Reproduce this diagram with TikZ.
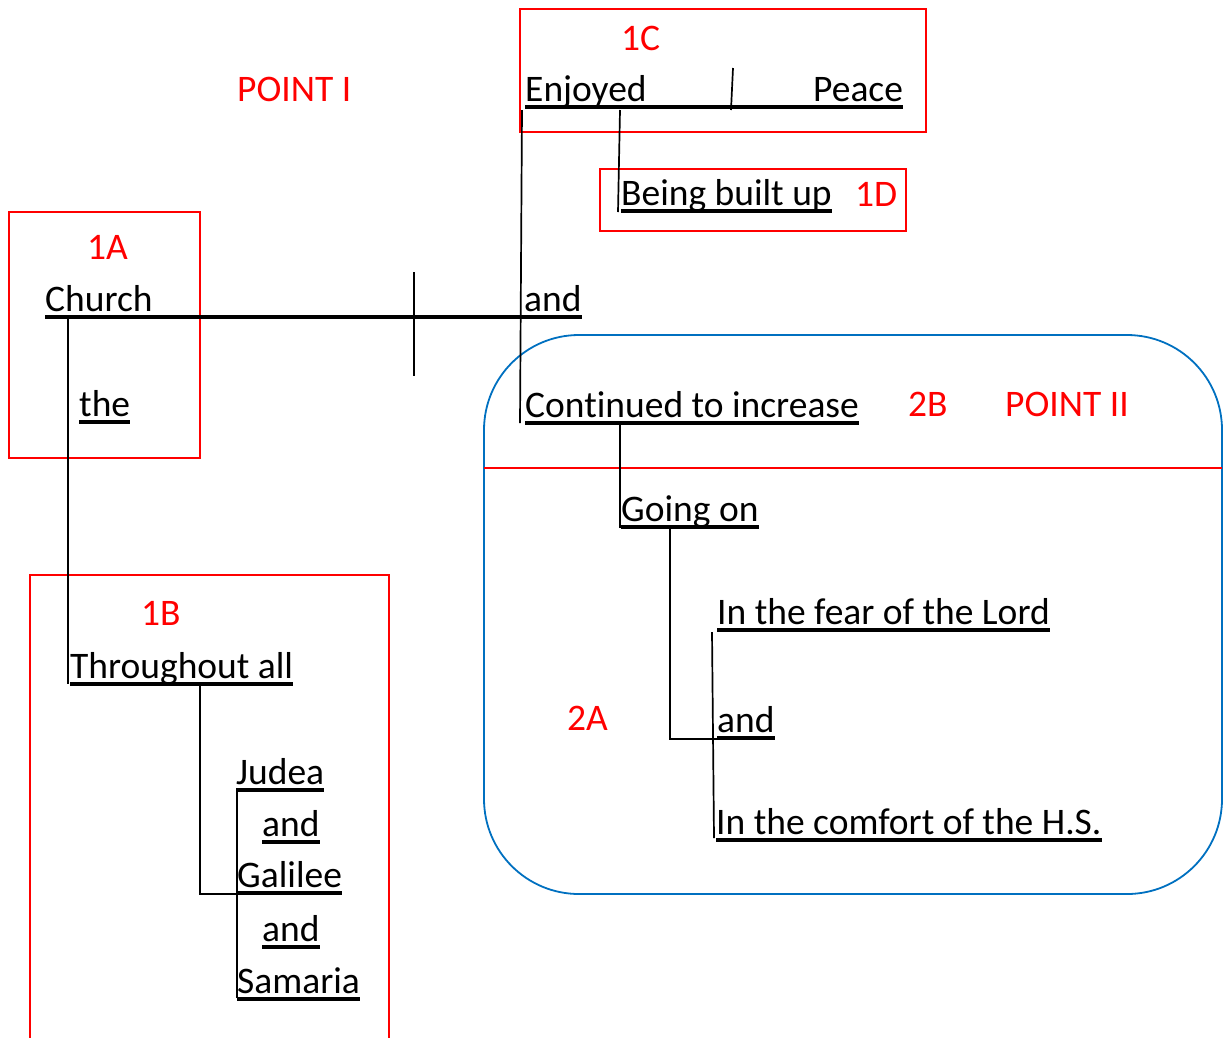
\documentclass[tikz,border=0pt]{standalone}
\usepackage{fontspec}
\setmainfont[Ligatures={NoCommon}]{Carlito}
\newcommand\fsz{\fontsize{37.5}{45}\selectfont}
\tikzset{
  txt/.style={anchor=base west, inner sep=0pt, font=\fsz},
  lbl/.style={txt, text=red},
  ulline/.style={line width=3.2pt},
  conn/.style={line width=1.7pt},
  redbox/.style={draw=red, line width=1.8pt},
}
\newcommand\ulword[1]{\draw[ulline] ([yshift=-6pt]#1.base west) -- ([yshift=-6pt]#1.base east);}
\begin{document}
\begin{tikzpicture}[x=1pt,y=-1pt]
\useasboundingbox (0,0) rectangle (1225,1037);
\clip (0,0) rectangle (1225,1037);
% boxes
\draw[redbox] (520,9) rectangle (926,132);
\draw[redbox] (600,169) rectangle (906,231);
\draw[redbox] (9,212) rectangle (200,458);
\draw[redbox] (30,575) rectangle (389,1060);
\draw[draw={rgb,255:red,0;green,112;blue,192}, line width=1.8pt, rounded corners=95pt] (484,335) rectangle (1222,894);
\coordinate (rl1) at (484,468);
\coordinate (rl2) at (1222,468);
\draw[red, line width=1.4pt] (rl1) -- (rl2);
% texts
\node[txt] (enjoyed) at (525,101) {Enjoyed};
\node[txt] (peace) at (813,101) {Peace};
\node[lbl] (l1c) at (621,50) {1C};
\node[lbl] (point1) at (237,101) {POINT I};
\node[txt] (built) at (621,205) {Being built up};
\node[lbl] (l1d) at (855,206) {1D};
\node[lbl] (l1a) at (87,259) {1A};
\node[txt] (church) at (45,311) {Church};
\node[txt] (and1) at (524,311) {and};
\node[txt] (the) at (79,416) {the};
\node[txt] (cont) at (525,417) {Cont\kern0pt{}inued to increase};
\node[lbl] (l2b) at (908,416) {2B};
\node[lbl] (point2) at (1005,416) {POINT II};
\node[txt] (going) at (621,521) {Going on};
\node[txt] (fear) at (717,624) {In the fear of the Lord};
\node[txt] (and2) at (717,732) {and};
\node[txt] (comfort) at (716,834) {In the comfort of the H.S.};
\node[lbl] (l2a) at (567,730) {2A};
\node[lbl] (l1b) at (141,625) {1B};
\node[txt] (through) at (70,678) {Throughout all};
\node[txt] (judea) at (236,784) {Judea};
\node[txt] (and3) at (262,836) {and};
\node[txt] (galilee) at (237,887) {Galilee};
\node[txt] (and4) at (262,941) {and};
\node[txt] (samaria) at (237,993) {Samaria};
% underlines
\draw[ulline] ([yshift=-6pt]enjoyed.base west) -- ([yshift=-6pt]peace.base east);
\draw[ulline] ([yshift=-6pt]church.base west) -- ([yshift=-6pt]and1.base east);
\ulword{built}
\ulword{the}
\ulword{cont}
\ulword{going}
\ulword{fear}
\ulword{and2}
\ulword{comfort}
\ulword{through}
\ulword{judea}
\ulword{and3}
\ulword{galilee}
\ulword{and4}
\ulword{samaria}
% connectors
\coordinate (tk1a) at (733,68); \coordinate (tk1b) at (731,110);
\draw[conn] (tk1a) -- (tk1b);
\coordinate (bu1) at (620,110); \coordinate (bu2) at (618,212);
\draw[conn] (bu1) -- (bu2);
\coordinate (lv1) at (522,110); \coordinate (lv2) at (520,423);
\draw[conn] (lv1) -- (lv2);
\coordinate (tk2a) at (414,272); \coordinate (tk2b) at (414,376);
\draw[conn] (tk2a) -- (tk2b);
\coordinate (cv1) at (68,316); \coordinate (cv2) at (68,684);
\draw[conn] (cv1) -- (cv2);
\coordinate (gv1) at (620,422); \coordinate (gv2) at (620,528);
\draw[conn] (gv1) -- (gv2);
\coordinate (ov1) at (670,528); \coordinate (ov2) at (670,739); \coordinate (ov3) at (734,739);
\draw[conn] (ov1) -- (ov2) -- (ov3);
\coordinate (fv1) at (712,632); \coordinate (fv2) at (714,838);
\draw[conn] (fv1) -- (fv2);
\coordinate (tv1) at (200,685); \coordinate (tv2) at (200,894); \coordinate (tv3) at (238,894);
\draw[conn] (tv1) -- (tv2) -- (tv3);
\coordinate (jv1) at (237,789); \coordinate (jv2) at (237,998);
\draw[conn] (jv1) -- (jv2);
\end{tikzpicture}
\end{document}
